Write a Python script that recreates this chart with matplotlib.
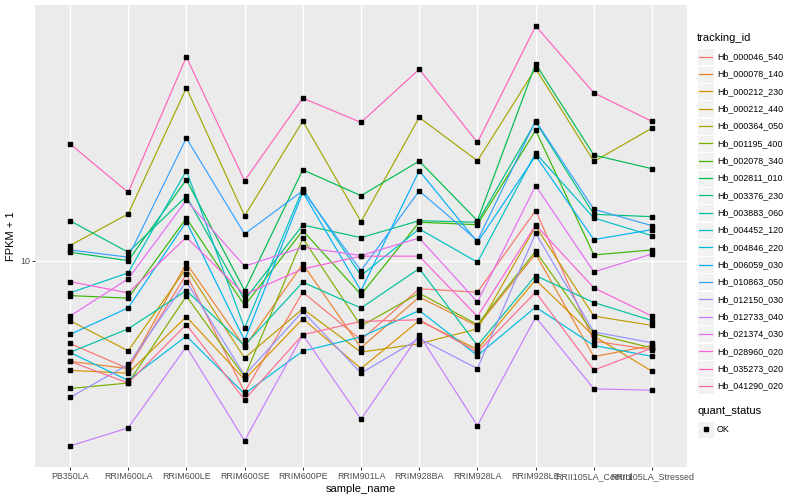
import numpy as np
import matplotlib
matplotlib.use("Agg")
from matplotlib import pyplot as plt
from matplotlib.patches import Rectangle
from matplotlib.lines import Line2D

plt.rcParams['font.family'] = ['Liberation Sans', 'DejaVu Sans']

samples = ["PB350LA", "RRIM600LA", "RRIM600LE", "RRIM600SE", "RRIM600PE", "RRIM901LA",
           "RRIM928BA", "RRIM928LA", "RRIM928LE", "RRII105LA_Control", "RRII105LA_Stressed"]

tracking_ids = ["Hb_000046_540", "Hb_000078_140", "Hb_000212_230", "Hb_000212_440",
                "Hb_000364_050", "Hb_001195_400", "Hb_002078_340", "Hb_002811_010",
                "Hb_003376_230", "Hb_003883_060", "Hb_004452_120", "Hb_004846_220",
                "Hb_006059_030", "Hb_010863_050", "Hb_012150_030", "Hb_012733_040",
                "Hb_021374_030", "Hb_028960_020", "Hb_035273_020", "Hb_041290_020"]

# ggplot hue palette, 20 levels
colors = ["#F8766D", "#EA8331", "#D89000", "#C09B00", "#A3A500", "#7CAE00", "#39B600",
          "#00BB4E", "#00BF7D", "#00C1A3", "#00BFC4", "#00BAE0", "#00B0F6", "#35A2FF",
          "#9590FF", "#C77CFF", "#E76BF3", "#FA62DB", "#FF62BC", "#FF6C90"]

# FPKM + 1, one row per tracking_id, one column per sample
fpkm = [
    [5.30, 4.37, 9.03, 3.65, 7.86, 5.45, 8.07, 7.86, 14.72, 5.40, 5.05],
    [4.62, 4.37, 9.82, 5.16, 9.77, 5.13, 7.57, 6.06, 10.55, 4.79, 5.22],
    [4.31, 4.22, 6.51, 4.02, 6.41, 4.37, 6.32, 5.06, 8.64, 5.61, 4.28],
    [6.32, 5.01, 9.46, 4.74, 6.92, 4.96, 5.29, 5.93, 13.05, 6.54, 6.09],
    [11.25, 14.35, 37.8, 14.13, 29.29, 13.52, 30.13, 21.59, 43.88, 21.49, 27.75],
    [3.75, 3.91, 7.63, 4.10, 11.9, 6.06, 7.80, 6.13, 10.77, 5.71, 5.12],
    [7.66, 7.51, 13.88, 7.10, 12.62, 7.72, 13.46, 13.21, 27.28, 10.47, 10.88],
    [10.69, 10.02, 18.66, 7.96, 20.15, 16.51, 21.54, 13.62, 45.47, 22.56, 20.31],
    [13.62, 10.69, 16.43, 7.41, 13.18, 11.96, 13.62, 13.46, 29.13, 14.31, 14.05],
    [4.95, 5.93, 7.96, 5.22, 8.49, 6.96, 9.43, 5.22, 8.93, 7.26, 6.32],
    [7.82, 9.12, 20.0, 5.97, 17.38, 8.93, 12.79, 9.90, 22.91, 13.91, 12.14],
    [4.95, 3.99, 5.61, 3.60, 5.00, 5.57, 6.83, 4.83, 7.01, 5.22, 4.80],
    [5.68, 6.97, 13.52, 5.43, 16.94, 7.96, 20.0, 11.54, 22.44, 11.78, 12.72],
    [10.88, 10.29, 25.70, 12.30, 17.15, 9.28, 17.12, 11.69, 29.36, 14.87, 13.11],
    [3.50, 4.51, 8.53, 4.15, 6.78, 4.22, 5.50, 4.37, 12.37, 5.79, 5.33],
    [2.41, 2.77, 5.17, 2.51, 5.67, 2.96, 5.67, 2.82, 6.49, 3.74, 3.70],
    [6.54, 8.71, 15.94, 9.60, 11.11, 10.42, 11.93, 7.29, 17.82, 9.19, 10.55],
    [8.53, 7.82, 11.99, 7.72, 9.40, 10.37, 10.37, 6.52, 13.18, 8.13, 6.54],
    [24.60, 16.94, 47.97, 18.52, 34.94, 29.0, 43.65, 24.87, 60.85, 36.39, 29.22],
    [4.62, 3.91, 6.13, 3.44, 5.67, 6.28, 6.36, 4.96, 7.86, 4.32, 5.12],
]
fpkm = np.array(fpkm)

W, H = 800, 500
fig = plt.figure(figsize=(8, 5), dpi=100)
ax = fig.add_axes([35 / W, 1 - 467 / H, (687 - 35) / W, (467 - 5) / H])
ax.set_facecolor("#EBEBEB")
for s in ax.spines.values():
    s.set_visible(False)

x = np.arange(len(samples))
for i, tid in enumerate(tracking_ids):
    ax.plot(x, fpkm[i], color=colors[i], lw=0.85, zorder=2)
for i, tid in enumerate(tracking_ids):
    ax.plot(x, fpkm[i], ls="none", marker="s", ms=2.4, color="black", zorder=3)

ax.set_yscale("log")
lo, hi = np.log10(fpkm.min()), np.log10(fpkm.max())
pad = 0.05 * (hi - lo)
ax.set_ylim(10 ** (lo - pad), 10 ** (hi + pad))
ax.set_xlim(-0.6, len(samples) - 0.4)
ax.set_yticks([10])
ax.set_yticklabels(["10"])
ax.yaxis.set_minor_locator(matplotlib.ticker.NullLocator())
ax.set_xticks(x)
ax.set_xticklabels(samples)
ax.grid(True, color="white", lw=1.0, zorder=0)
ax.set_axisbelow(True)
ax.tick_params(axis="both", colors="#333333", length=2, width=0.7, labelsize=6.4,
               labelcolor="#4D4D4D", pad=1.5)
ax.set_xlabel("sample_name", fontsize=8, color="black", labelpad=2)
ax.set_ylabel("FPKM + 1", fontsize=8, color="black", labelpad=3)

# legend drawn ggplot style, outside the panel
def fx(px):
    return px / W

def fy(py):
    return 1 - py / H

fig.text(fx(697), fy(38), "tracking_id", fontsize=8, va="center", ha="left")
for i, tid in enumerate(tracking_ids):
    cy = 56.7 + i * 17.33
    fig.add_artist(Rectangle((fx(697), fy(cy + 8.5)), 17 / W, 17 / H,
                             facecolor="#F2F2F2", edgecolor="white", lw=0.8))
    fig.add_artist(Line2D([fx(699), fx(712)], [fy(cy), fy(cy)], color=colors[i], lw=0.9))
    fig.text(fx(717), fy(cy), tid, fontsize=6.4, va="center", ha="left")

fig.text(fx(697), fy(411), "quant_status", fontsize=8, va="center", ha="left")
fig.add_artist(Rectangle((fx(697), fy(429 + 8.5)), 17 / W, 17 / H,
                         facecolor="#F2F2F2", edgecolor="white", lw=0.8))
fig.add_artist(Line2D([fx(705.5)], [fy(429)], marker="s", ms=2.4, color="black", ls="none"))
fig.text(fx(717), fy(429), "OK", fontsize=6.4, va="center", ha="left")

fig.savefig("out.png", dpi=100, facecolor="white")
